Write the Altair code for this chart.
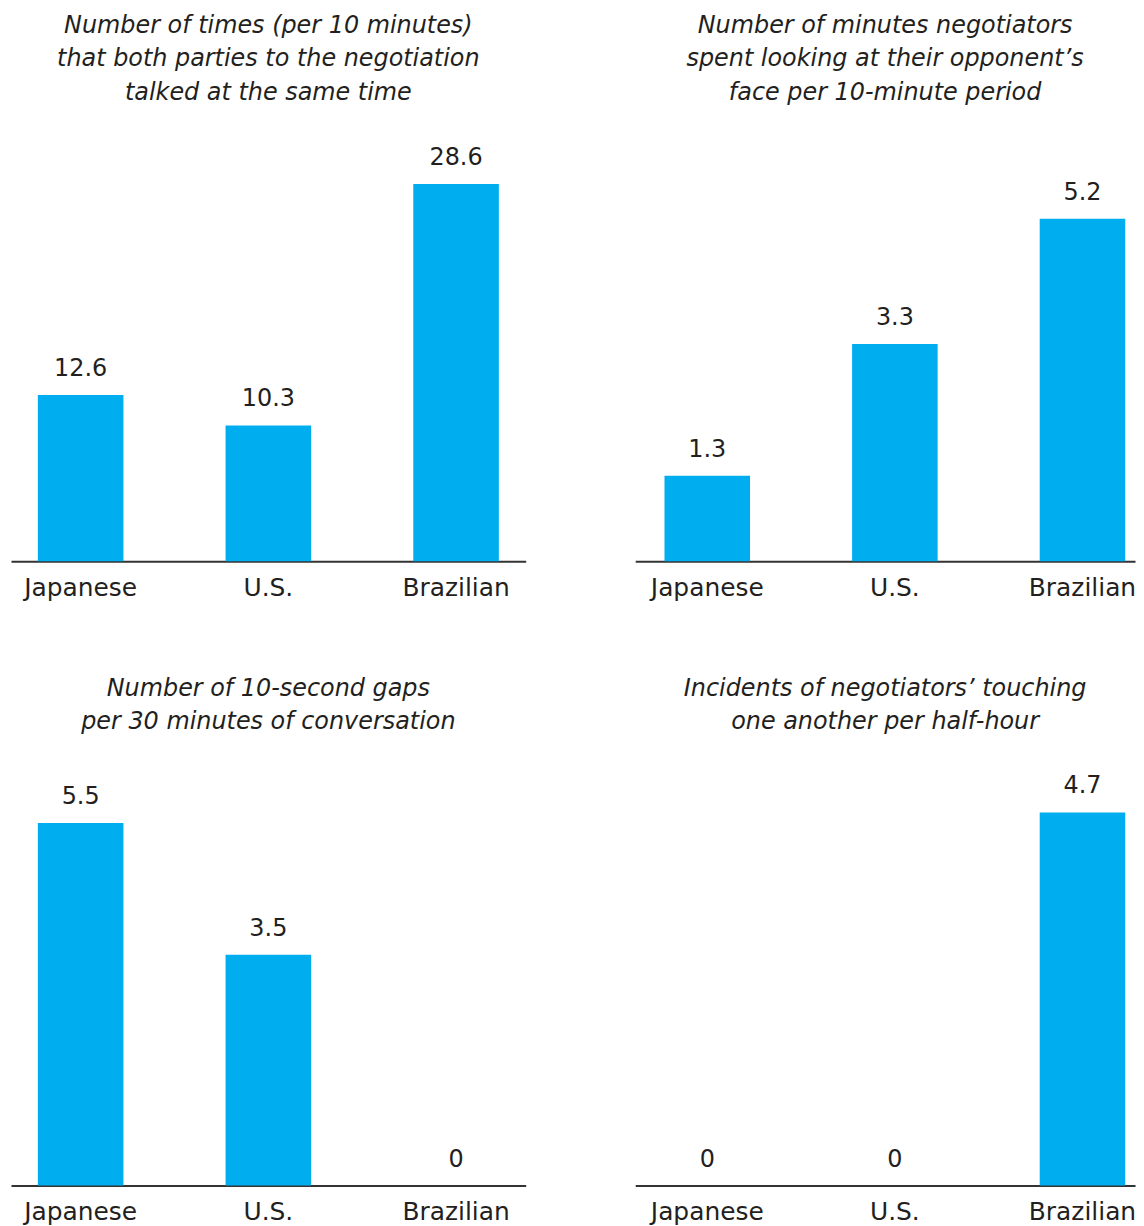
import altair as alt
import pandas as pd

categories = ["Japanese", "U.S.", "Brazilian"]
overlap_talk = [12.6, 10.3, 28.6]
face_gaze = [1.3, 3.3, 5.2]
silent_gaps = [5.5, 3.5, 0]
touching = [0, 0, 4.7]

titles = [
    ["Number of times (per 10 minutes)", "that both parties to the negotiation", "talked at the same time"],
    ["Number of minutes negotiators", "spent looking at their opponent’s", "face per 10-minute period"],
    ["Number of 10-second gaps", "per 30 minutes of conversation"],
    ["Incidents of negotiators’ touching", "one another per half-hour"],
]

BAR = "#00AEEF"
INK = "#231F20"
FONT = "DejaVu Sans"


def panel(values, title, width, height, ymax, pad_outer, align):
    df = pd.DataFrame({
        "cat": categories,
        "value": values,
        "label": [f"{v:g}" for v in values],
    })
    base = alt.Chart(df).encode(
        x=alt.X(
            "cat:N",
            sort=categories,
            title=None,
            scale=alt.Scale(paddingInner=0.544, paddingOuter=pad_outer, align=align),
            axis=alt.Axis(
                labelAngle=0,
                ticks=False,
                domainColor="#333333",
                domainWidth=2,
                labelFont=FONT,
                labelFontSize=25,
                labelColor=INK,
                labelPadding=14,
            ),
        ),
        y=alt.Y("value:Q", scale=alt.Scale(domain=[0, ymax], nice=False), axis=None),
    )
    bars = base.mark_bar(color=BAR)
    text = base.mark_text(
        font=FONT, fontSize=24, color=INK, baseline="alphabetic", dy=-19
    ).encode(text="label:N")
    return alt.layer(bars, text).properties(
        width=width,
        height=height,
        title=alt.TitleParams(
            text=title,
            font=FONT,
            fontStyle="italic",
            fontWeight="normal",
            fontSize=24,
            lineHeight=34,
            color=INK,
            anchor="middle",
            offset=36,
        ),
    )


W_LEFT = 517
W_RIGHT = 502

p1 = panel(overlap_talk, titles[0], W_LEFT, 422, 31.85, 0.143, 0.5)
p2 = panel(face_gaze, titles[1], W_RIGHT, 422, 6.38, 0.104, 0.75)
p3 = panel(silent_gaps, titles[2], W_LEFT, 417, 6.3, 0.143, 0.5)
p4 = panel(touching, titles[3], W_RIGHT, 417, 5.23, 0.104, 0.75)

row1 = alt.hconcat(p1, p2, spacing=110)
row2 = alt.hconcat(p3, p4, spacing=110)

chart = alt.vconcat(row1, row2, spacing=77).properties(
    padding={"left": 3, "top": 3, "right": 0, "bottom": 0}
).configure_view(stroke=None)

chart.save("out.html", embed_options={"renderer": "svg", "actions": False})
